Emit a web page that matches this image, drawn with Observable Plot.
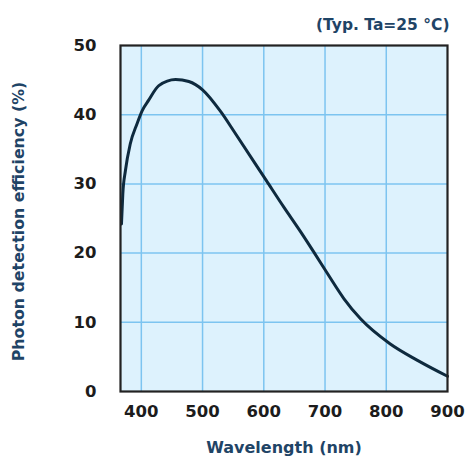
<!DOCTYPE html>
<html>
<head>
<meta charset="utf-8">
<script src="https://cdn.jsdelivr.net/npm/d3@7"></script>
<script src="https://cdn.jsdelivr.net/npm/@observablehq/plot@0.6"></script>
<style>
  html, body { margin: 0; padding: 0; background: #fff; }
  #chart svg { display: block; }
</style>
</head>
<body>
<div id="chart"></div>
<script>
const wavelength = [367.6, 369.8, 374, 382, 393, 401.5, 412, 428.6, 456, 477.6, 500, 530, 552, 604, 633, 660, 682, 705, 731, 758, 806, 851, 900];
const efficiency = [24.2, 28.6, 31.9, 35.8, 38.7, 40.6, 42.1, 44.2, 45.1, 44.8, 43.6, 40.4, 37.5, 30.5, 26.6, 23.1, 20.1, 16.9, 13.4, 10.5, 6.9, 4.5, 2.2];
const xTicks = [400, 500, 600, 700, 800, 900];
const yTicks = [0, 10, 20, 30, 40, 50];
const xLabel = "Wavelength (nm)";
const yLabel = "Photon detection efficiency (%)";
const note = "(Typ. Ta=25 °C)";

const data = wavelength.map((w, i) => ({w, e: efficiency[i]}));

const font = "'DejaVu Sans', sans-serif";
const navy = "#1f4466";

const chart = Plot.plot({
  width: 465,
  height: 464,
  marginLeft: 120,
  marginRight: 18,
  marginTop: 45,
  marginBottom: 73,
  style: {fontFamily: font, background: "#fff"},
  x: {domain: [366, 900], ticks: xTicks},
  y: {domain: [0, 50], ticks: yTicks},
  marks: [
    Plot.frame({fill: "#ddf2fd", stroke: null}),
    Plot.gridX(xTicks.filter(t => t < 900), {stroke: "#7cc4f0", strokeOpacity: 1, strokeWidth: 1.5}),
    Plot.gridY(yTicks.filter(t => t > 0 && t < 50), {stroke: "#7cc4f0", strokeOpacity: 1, strokeWidth: 1.5}),
    Plot.line(data, {x: "w", y: "e", curve: "monotone-x", stroke: "#0e2a3e", strokeWidth: 3}),
    Plot.frame({stroke: "#222", strokeWidth: 2.2}),
    Plot.axisX(xTicks, {tickSize: 0, tickPadding: 14, fontSize: 16.5, fontWeight: "bold", fill: "#1c1c1c", label: null}),
    Plot.axisY(yTicks, {tickSize: 0, tickPadding: 24, fontSize: 16.5, fontWeight: "bold", fill: "#1c1c1c", label: null}),
    Plot.text([xLabel], {frameAnchor: "bottom", dy: 61, fontSize: 16, fontWeight: "bold", fill: navy, fontFamily: font}),
    Plot.text([yLabel], {frameAnchor: "left", textAnchor: "middle", rotate: -90, dx: -102, dy: 3, fontSize: 15.8, fontWeight: "bold", fill: navy, fontFamily: font}),
    Plot.text([note], {frameAnchor: "top-right", textAnchor: "end", dy: -27, dx: 2, fontSize: 15.5, fontWeight: "bold", fill: navy, fontFamily: font})
  ]
});
document.getElementById("chart").appendChild(chart);
</script>
</body>
</html>
